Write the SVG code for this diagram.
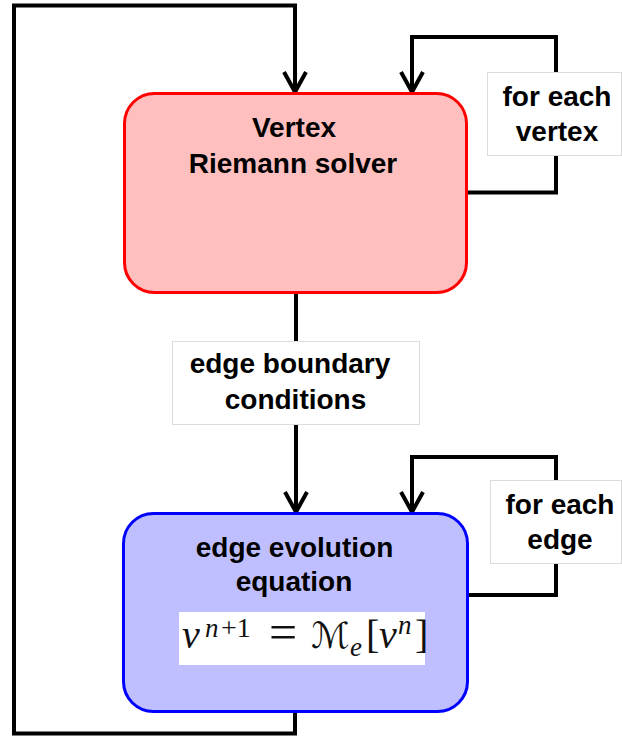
<svg xmlns="http://www.w3.org/2000/svg" width="622" height="736" viewBox="0 0 622 736">
<style>
.wire{fill:none;stroke:#000;stroke-width:4;stroke-linejoin:miter}
.lbl{fill:#fff;stroke:#dcdcdc;stroke-width:1}
.t{font-family:"Liberation Sans",Arial,sans-serif;font-weight:bold;font-size:28px;fill:#000;text-anchor:middle}
.m{font-family:"Liberation Serif","Times New Roman",serif;fill:#111}
.i{font-style:italic}
</style>
<defs>
<marker id="ah" markerUnits="userSpaceOnUse" markerWidth="40" markerHeight="40" refX="0" refY="0" orient="auto" overflow="visible">
<path d="M -24 -11 L -4 0 L -24 11" fill="none" stroke="#000" stroke-width="4"/>
</marker>
</defs>
<rect width="622" height="736" fill="#fff"/>
<g id="connectors">
<path class="wire" d="M 295 712 L 295 733.5 L 14 733.5 L 14 5.5 L 295 5.5 L 295 96" marker-end="url(#ah)"/>
<path class="wire" d="M 467 192.5 L 556 192.5 L 556 37 L 412 37 L 412 96" marker-end="url(#ah)"/>
<path class="wire" d="M 468 595 L 556 595 L 556 457 L 412 457 L 412 516" marker-end="url(#ah)"/>
<path class="wire" d="M 296 293 L 296 516" marker-end="url(#ah)"/>
</g>
<g id="label-vertex">
<rect class="lbl" x="487.5" y="72.5" width="134" height="83"/>
<text class="t" x="557" y="106">for each</text>
<text class="t" x="557" y="141">vertex</text>
</g>
<g id="label-boundary">
<rect class="lbl" x="172.5" y="341.5" width="247" height="83"/>
<text class="t" x="290" y="373">edge boundary</text>
<text class="t" x="295.5" y="409">conditions</text>
</g>
<g id="label-edge">
<rect class="lbl" x="490.5" y="480.5" width="131" height="83"/>
<text class="t" x="560" y="514">for each</text>
<text class="t" x="560" y="549">edge</text>
</g>
<g id="vertex-solver">
<rect x="124.5" y="93.5" width="342" height="199" rx="30" ry="30" fill="#FFBFBF" stroke="#FF0000" stroke-width="3"/>
<text class="t" x="294" y="137">Vertex</text>
<text class="t" x="293" y="173">Riemann solver</text>
</g>
<g id="edge-evolution">
<rect x="123.5" y="513.5" width="344" height="198" rx="30" ry="30" fill="#BFBFFF" stroke="#0000FF" stroke-width="3"/>
<text class="t" x="294.5" y="557">edge evolution</text>
<text class="t" x="294" y="591">equation</text>
<rect x="179" y="612" width="246" height="53" fill="#fff"/>
<text class="m" font-size="40"><tspan class="i" x="182" y="648">v</tspan><tspan class="i" x="205" y="637" font-size="27">n</tspan><tspan x="221" y="637" font-size="28">+1</tspan><tspan x="269" y="649" font-size="50">=</tspan><tspan x="311" y="648" font-family="'DejaVu Serif','DejaVu Sans',serif" font-style="italic" font-size="36">ℳ</tspan><tspan class="i" x="350" y="656" font-size="27">e</tspan><tspan x="366" y="648">[</tspan><tspan class="i" x="379" y="648">v</tspan><tspan class="i" x="398" y="634" font-size="27">n</tspan><tspan x="415" y="648">]</tspan></text>
</g>
</svg>
